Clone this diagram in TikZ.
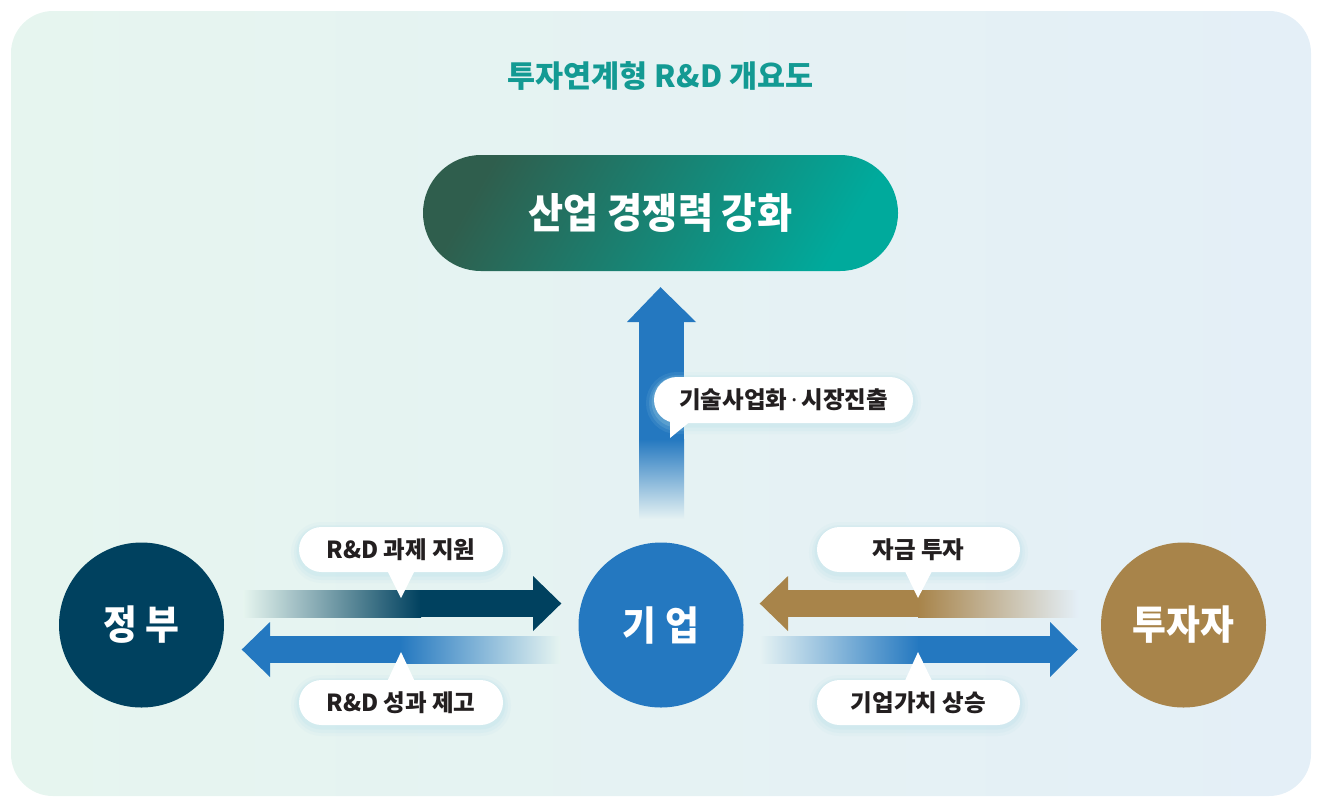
\documentclass[tikz,border=0pt]{standalone}
\usepackage{fontspec}
\setmainfont{Noto Sans CJK KR}
\newfontfamily\krnarrow{Noto Sans CJK KR}[FakeStretch=0.92]
\newfontfamily\latinsans{Noto Sans}
\usetikzlibrary{shapes.misc,calc}
\definecolor{bgL}{HTML}{E6F5EF}
\definecolor{bgR}{HTML}{E4EFF7}
\definecolor{bgM}{HTML}{E5F2F3}
\definecolor{titlec}{HTML}{139A93}
\definecolor{pillA}{HTML}{2F5E4D}
\definecolor{pillB}{HTML}{00AA9C}
\definecolor{navyc}{HTML}{00415F}
\definecolor{bluec}{HTML}{2478C0}
\definecolor{brownc}{HTML}{A8844A}
\definecolor{txtc}{HTML}{231F20}
\definecolor{glowc}{HTML}{B5DFEA}
\tikzset{
  circ/.style={circle, minimum size=165, inner sep=0, text=white,
    font=\krnarrow\bfseries\fontsize{40}{44}\selectfont},
  callbox/.style={rounded rectangle, fill=white, text=txtc, minimum height=45, inner sep=0,
    font=\bfseries\fontsize{23.5}{26}\selectfont,
    preaction={draw=glowc, line width=16, opacity=0.10, transform canvas={yshift=-3pt}},
    preaction={draw=glowc, line width=10, opacity=0.14, transform canvas={yshift=-3pt}},
    preaction={draw=glowc, line width=5, opacity=0.2, transform canvas={yshift=-2pt}}},
  tailc/.style={fill=white}
}
\begin{document}
\begin{tikzpicture}[x=1pt,y=-1pt]
\useasboundingbox (0,0) rectangle (1319,796);
\shade[left color=bgL, right color=bgR, rounded corners=42] (11,11) rectangle (1311,796);

% title
\node[text=titlec, font=\bfseries\fontsize{30.5}{32}\selectfont] (title) at (660.5,76) {투자연계형 R\&D 개요도};

% top pill
\node[rounded rectangle, minimum width=475, minimum height=116, inner sep=0,
      left color=pillA, right color=pillB, shading angle=60,
      text=white, font=\krnarrow\bfseries\fontsize{41.5}{44}\selectfont] (ind) at (660.5,213) {산업 경쟁력 강화};

% circles
\node[circ, fill=navyc] (gov) at (141.5,625) {정 부};
\node[circ, fill=bluec] (firm) at (661,625) {기 업};
\node[circ, fill=brownc] (inv) at (1183.5,625) {투자자};

% up arrow
\coordinate (upTip) at ($(ind.south)+(0,16)$);
\shade[top color=bluec, bottom color=bgM] (639,439) rectangle (684,519);
\fill[bluec] (639,321) rectangle (684,440);
\fill[bluec] (627,322) -- (upTip) -- (696,322) -- cycle;

% left: gov -> firm (navy)
\coordinate (t1) at ($(firm.west)+(-17,-21.5)$);
\shade[left color=bgL, right color=navyc] (243,590) rectangle (421,617);
\fill[navyc] (420,590) rectangle (534,617);
\fill[navyc] (533,576) -- (t1) -- (533,631) -- cycle;

% left: firm -> gov (blue)
\coordinate (t2) at ($(gov.east)+(17.5,24.5)$);
\fill[bluec] (269,636) rectangle (401,663);
\shade[left color=bluec, right color=bgL!60!bgM] (400,636) rectangle (560,663);
\fill[bluec] (270,622) -- (t2) -- (270,677) -- cycle;

% right: inv -> firm (brown)
\coordinate (t3) at ($(firm.east)+(16,-21.5)$);
\fill[brownc] (787,590) rectangle (919,617);
\shade[left color=brownc, right color=bgR] (918,590) rectangle (1078,617);
\fill[brownc] (788,576) -- (t3) -- (788,631) -- cycle;

% right: firm -> inv (blue)
\coordinate (t4) at ($(inv.west)+(-23,24.5)$);
\shade[left color=bgM, right color=bluec] (760,636) rectangle (919,663);
\fill[bluec] (918,636) rectangle (1051,663);
\fill[bluec] (1050,622) -- (t4) -- (1050,677) -- cycle;

% callouts
\coordinate (p1) at (401,598);
\coordinate (p2) at (401,652);
\coordinate (p3) at (918,598);
\coordinate (p4) at (918,652);
\coordinate (p5) at (670,438);

\node[callbox, minimum width=204] (l1) at (401,549.5) {R\&D 과제 지원};
\fill[tailc] ($(l1.south)+(-14,-2)$) -- (p1) -- ($(l1.south)+(14,-2)$) -- cycle;

\node[callbox, minimum width=204] (l2) at (401,702.5) {R\&D 성과 제고};
\fill[tailc] ($(l2.north)+(-14,2)$) -- (p2) -- ($(l2.north)+(14,2)$) -- cycle;

\node[callbox, minimum width=203] (l3) at (918.5,549.5) {자금 투자};
\fill[tailc] ($(l3.south)+(-14,-2)$) -- (p3) -- ($(l3.south)+(14,-2)$) -- cycle;

\node[callbox, minimum width=203] (l4) at (918.5,702.5) {기업가치 상승};
\fill[tailc] ($(l4.north)+(-14,2)$) -- (p4) -- ($(l4.north)+(14,2)$) -- cycle;

\node[callbox, minimum width=259, minimum height=46] (l5) at (783.5,400) {기술사업화{\latinsans\bfseries\,·\,}시장진출};
\fill[tailc] (670,420) -- (p5) -- (692,420) -- cycle;
\end{tikzpicture}
\end{document}
